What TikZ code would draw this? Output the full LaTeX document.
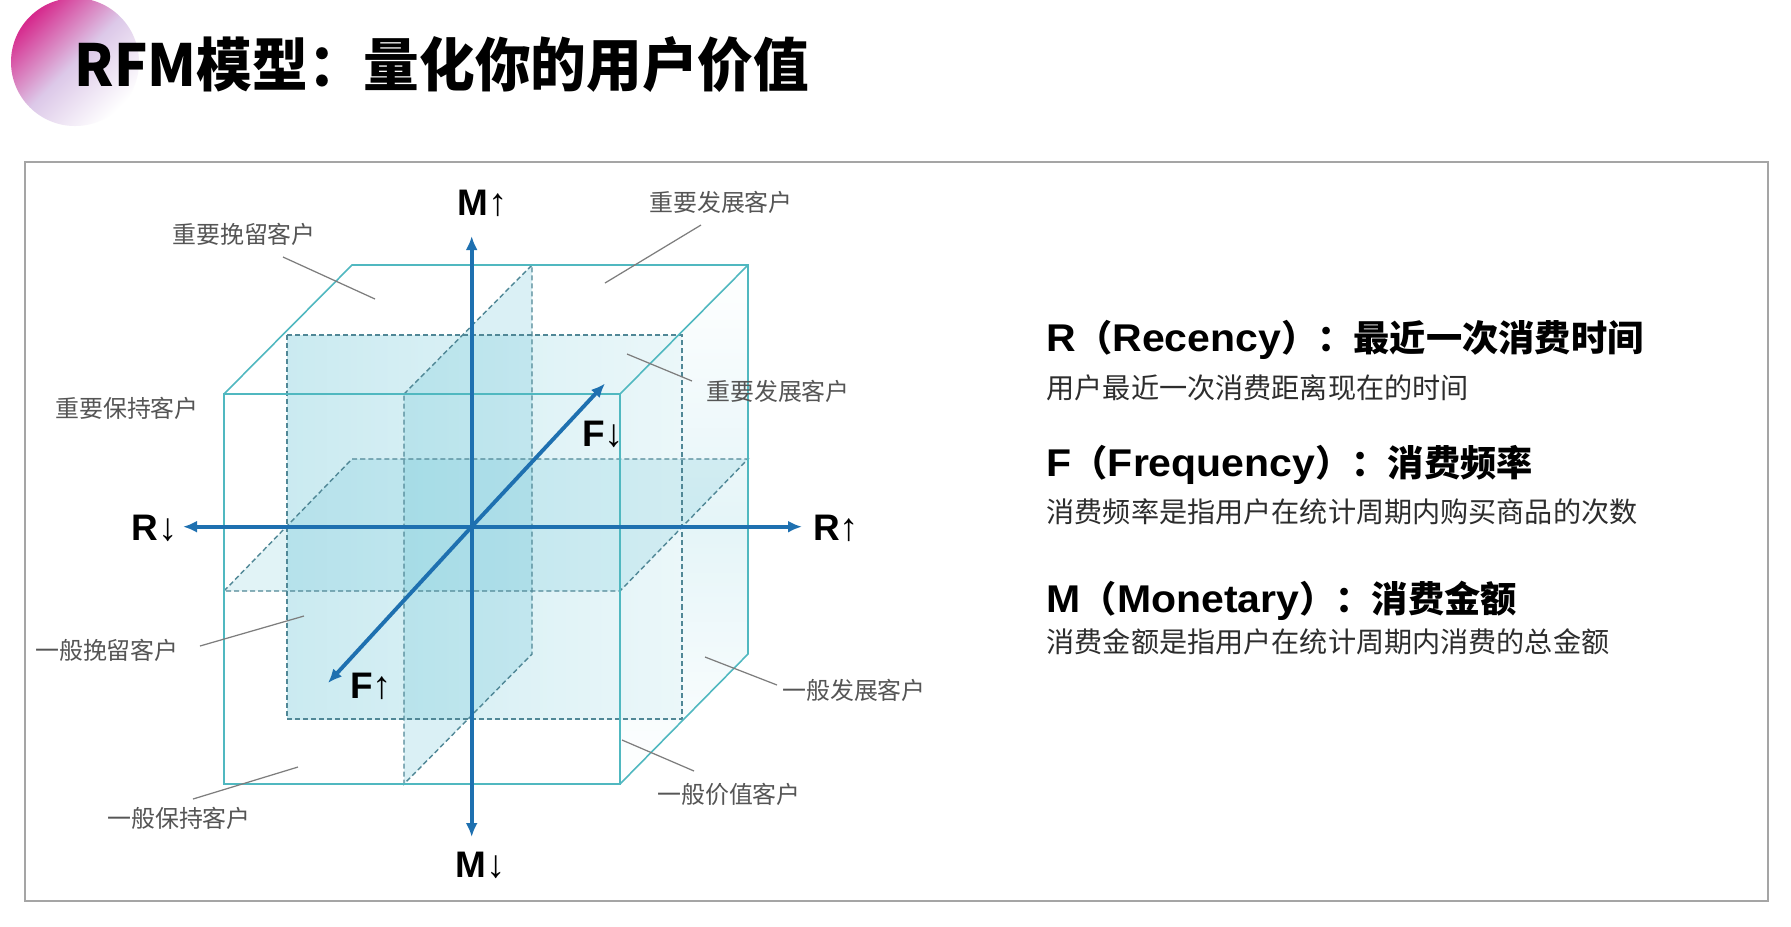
\documentclass[tikz,border=0pt]{standalone}
\usepackage{fontspec}
\setmainfont{Liberation Sans}
\newfontfamily\cjk{Noto Sans CJK SC}
\usetikzlibrary{arrows.meta}
\definecolor{axisblue}{RGB}{30,112,176}
\definecolor{cubeline}{RGB}{80,184,192}
\definecolor{dashc}{RGB}{80,135,150}
\definecolor{planec}{RGB}{90,190,210}
\definecolor{labelgray}{RGB}{85,85,85}
\definecolor{leadgray}{RGB}{125,125,125}
\definecolor{framegray}{RGB}{165,165,165}
\definecolor{pinkc}{RGB}{214,40,140}
\definecolor{lavc}{RGB}{220,200,232}
\tikzset{
  cubeedge/.style={draw=cubeline, line width=0.45pt},
  dashedge/.style={draw=dashc, line width=0.4pt, dash pattern=on 0.05cm off 0.03cm},
  axisline/.style={draw=axisblue, line width=1.1pt, -{Latex[length=1.4mm,width=1.2mm]}},
  axislbl/.style={font=\bfseries\fontsize{10.5}{12}\selectfont, text=black, inner sep=0pt},
  cubelbl/.style={font=\cjk\fontsize{6.8}{8}\selectfont, text=labelgray, inner sep=0pt},
  leader/.style={draw=leadgray, line width=0.35pt},
  headlbl/.style={anchor=west, inner sep=0pt, text=black},
  desclbl/.style={anchor=west, inner sep=0pt, text={rgb,255:red,45;green,45;blue,45}, font=\cjk\fontsize{8}{9}\selectfont},
}
\newcommand{\arr}[1]{{\fontsize{11}{12}\mdseries #1}}
\newcommand{\lat}[1]{\scalebox{1.06}[1]{\bfseries\fontsize{11}{12}\selectfont #1}}
\newcommand{\hz}[1]{{\cjk\bfseries\fontsize{10.3}{12}\selectfont #1}}
\begin{document}
\begin{tikzpicture}[x=0.01cm,y=-0.01cm]
\useasboundingbox (0,0) rectangle (1791,926);
\fill[white] (0,0) rectangle (1791,926);
% decorative circle
\shade[left color=pinkc, right color=white, middle color=lavc, shading angle=45] (75,62) circle (64);
% title
\node[anchor=west, inner sep=0pt, xscale=0.96, font=\cjk\bfseries\fontsize{16.5}{20}\selectfont] (title) at (74,65) {RFM模型：量化你的用户价值};
% frame
\draw[framegray, line width=0.5pt] (25,162) rectangle (1768,901);

% cube coordinates
\coordinate (FTL) at (224,394); \coordinate (FTR) at (620,394);
\coordinate (FBL) at (224,784); \coordinate (FBR) at (620,784);
\coordinate (BTL) at (352,265); \coordinate (BTR) at (748,265);
\coordinate (BBR) at (748,654);
% faint right-face tint
\shade[top color=white, bottom color=white, middle color=planec!16!white] (FTR) -- (BTR) -- (BBR) -- (FBR) -- cycle;
% plane fills
\shade[left color=planec!32!white, right color=planec!12!white] (287,335) rectangle (682,719);
\fill[planec, fill opacity=0.22] (404,394) -- (532,265) -- (532,654) -- (404,784) -- cycle;
\fill[planec, fill opacity=0.18] (224,591) -- (352,459) -- (748,459) -- (620,591) -- cycle;
% dashed planes
\draw[dashedge] (287,335) rectangle (682,719);
\draw[dashedge] (404,394) -- (532,265) -- (532,654) -- (404,784) -- cycle;
\draw[dashedge] (224,591) -- (352,459) -- (748,459) -- (620,591) -- cycle;
% cube edges
\draw[cubeedge] (FTL) rectangle (FBR);
\draw[cubeedge] (FTL) -- (BTL) -- (BTR) -- (BBR) -- (FBR);
\draw[cubeedge] (FTR) -- (BTR);

% axes
\coordinate (O) at (471.7,526.7);
\coordinate (Mt) at (471.7,236);
\coordinate (Mb) at (471.7,837);
\coordinate (Rl) at (183,526.7);
\coordinate (Rr) at (802,526.7);
\coordinate (Ft) at (605,383.5);
\coordinate (Fb) at (328,683);
\draw[axisline] (O) -- (Mt);
\draw[axisline] (O) -- (Mb);
\draw[axisline] (O) -- (Rl);
\draw[axisline] (O) -- (Rr);
\draw[axisline] (O) -- (Ft);
\draw[axisline] (O) -- (Fb);

\node[axislbl] (Mup) at (483,203) {M\arr{↑}};
\node[axislbl] (Mdn) at (481,865) {M\arr{↓}};
\node[axislbl] (Rdn) at (155,528) {R\arr{↓}};
\node[axislbl] (Rup) at (836,528) {R\arr{↑}};
\node[axislbl] (Fdn) at (603,434) {F\arr{↓}};
\node[axislbl] (Fup) at (371,686) {F\arr{↑}};

% cube labels with leaders
\node[cubelbl] (l1) at (244,234) {重要挽留客户};
\draw[leader] (283,257) -- (375,299);
\node[cubelbl] (l2) at (721,202) {重要发展客户};
\draw[leader] (701,225) -- (605,283);
\node[cubelbl] (l3) at (127,408) {重要保持客户};
\node[cubelbl] (l4) at (778,391) {重要发展客户};
\draw[leader] (692,381) -- (627,354);
\node[cubelbl] (l5) at (107,650) {一般挽留客户};
\draw[leader] (200,646) -- (304,616);
\node[cubelbl] (l6) at (854,690) {一般发展客户};
\draw[leader] (777,685) -- (705,657);
\node[cubelbl] (l7) at (729,794) {一般价值客户};
\draw[leader] (694,771) -- (622,740);
\node[cubelbl] (l8) at (179,818) {一般保持客户};
\draw[leader] (193,799) -- (298,767);

% right text
\node[headlbl] (hR) at (1046,340) {\lat{R}\hz{（}\lat{Recency}\hz{）：最近一次消费时间}};
\node[desclbl] (dR) at (1046,388) {用户最近一次消费距离现在的时间};
\node[headlbl] (hF) at (1046,465) {\lat{F}\hz{（}\lat{Frequency}\hz{）：消费频率}};
\node[desclbl] (dF) at (1046,512) {消费频率是指用户在统计周期内购买商品的次数};
\node[headlbl] (hM) at (1046,601) {\lat{M}\hz{（}\lat{Monetary}\hz{）：消费金额}};
\node[desclbl] (dM) at (1046,642) {消费金额是指用户在统计周期内消费的总金额};
\end{tikzpicture}
\end{document}
